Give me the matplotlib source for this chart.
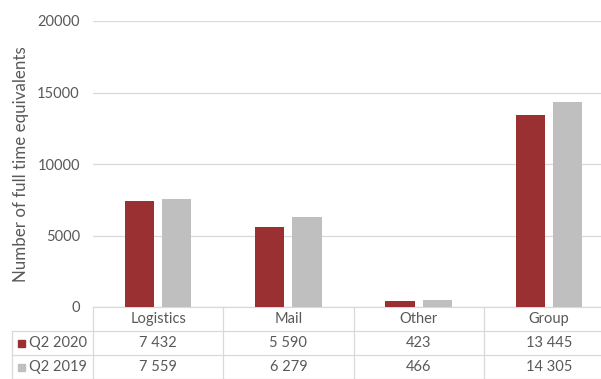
import matplotlib
matplotlib.use("Agg")
import matplotlib.pyplot as plt
from matplotlib.transforms import blended_transform_factory
from matplotlib.patches import Rectangle

# Dane
categories = ["Logistics", "Mail", "Other", "Group"]
series_names = ["Q2 2020", "Q2 2019"]
q2_2020 = [7432, 5590, 423, 13445]
q2_2019 = [7559, 6279, 466, 14305]
y_ticks = [0, 5000, 10000, 15000, 20000]

red = "#9B3033"
grey = "#BFBFBF"
text_col = "#595959"
line_col = "#D9D9D9"

plt.rcParams["font.family"] = ["Lato", "DejaVu Sans"]

W, H = 601, 379
fig = plt.figure(figsize=(W / 100, H / 100), dpi=100)
# os wykresu siega poza prawa krawedz (obraz przyciety)
left_px, right_px, top_px, bot_px = 93, 614, 21, 307
ax = fig.add_axes([left_px / W, 1 - bot_px / H,
                   (right_px - left_px) / W, (bot_px - top_px) / H])

x = list(range(len(categories)))
off = 0.143
bw = 0.226
ax.bar([i - off for i in x], q2_2020, width=bw, color=red, zorder=3)
ax.bar([i + off for i in x], q2_2019, width=bw, color=grey, zorder=3)

ax.set_xlim(-0.5, len(categories) - 0.5)
ax.set_ylim(0, 20000)
ax.set_yticks(y_ticks)
ax.set_xticks([])
ax.tick_params(axis="y", length=0, pad=9.5, labelsize=10.5, labelcolor=text_col)
for s in ax.spines.values():
    s.set_visible(False)
ax.yaxis.grid(True, color=line_col, linewidth=0.9)
ax.set_axisbelow(True)
ax.set_ylabel("Number of full time equivalents", fontsize=12.2,
              color=text_col, labelpad=6)

# Tabela danych pod wykresem
tr = blended_transform_factory(ax.transData, ax.transAxes)
ah = bot_px - top_px
def yax(px):
    return (bot_px - px) / ah

col_w = 130.3
x_lab = -0.5 - 81 / col_w
rows_px = [307, 331, 355, 379]
kw = dict(transform=tr, clip_on=False, color=line_col, linewidth=0.9)

ax.plot([-0.5, len(categories) - 0.5], [0, 0], **kw)
for r in rows_px[1:]:
    ax.plot([x_lab, len(categories) - 0.5], [yax(r), yax(r)], **kw)
for i in range(len(categories) + 1):
    ax.plot([i - 0.5, i - 0.5], [0, yax(rows_px[-1])], **kw)
ax.plot([x_lab, x_lab], [yax(rows_px[1]), yax(rows_px[-1])], **kw)

def mid(a, b):
    return yax((a + b) / 2)

for i, c in enumerate(categories):
    ax.text(i, mid(rows_px[0], rows_px[1]), c, transform=tr, ha="center",
            va="center", fontsize=10.5, color=text_col, clip_on=False)

def fmt(v):
    return "{:,}".format(v).replace(",", " ")

for r, (name, vals, col) in enumerate(zip(series_names, [q2_2020, q2_2019], [red, grey])):
    ym = mid(rows_px[r + 1], rows_px[r + 2])
    sq = 7 / col_w
    ax.add_patch(Rectangle((x_lab + 6 / col_w, ym - 7 / 2 / ah), sq, 7 / ah,
                           transform=tr, color=col, clip_on=False))
    ax.text(x_lab + 17 / col_w, ym, name, transform=tr, ha="left", va="center",
            fontsize=10.5, color=text_col, clip_on=False)
    for i, v in enumerate(vals):
        ax.text(i, ym, fmt(v), transform=tr, ha="center", va="center",
                fontsize=10.5, color=text_col, clip_on=False)

fig.savefig("out.png", dpi=100)
